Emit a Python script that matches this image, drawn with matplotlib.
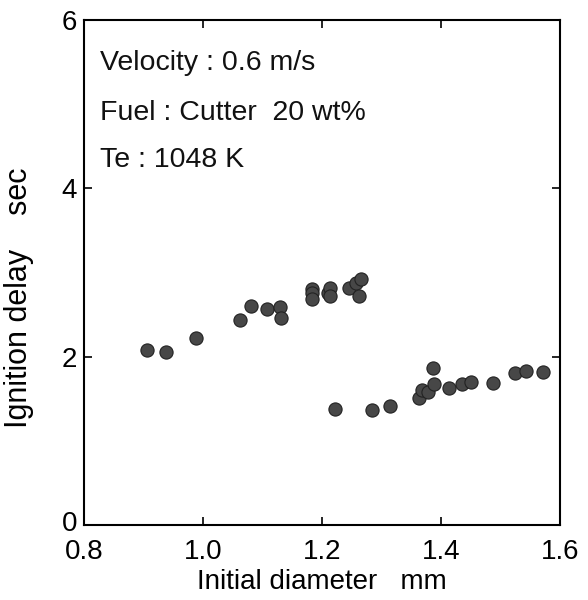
import matplotlib
matplotlib.use('Agg')
import matplotlib.pyplot as plt
import matplotlib.transforms as mtransforms

plt.rcParams['font.family'] = ['Liberation Sans', 'DejaVu Sans']

# initial diameter (mm) and ignition delay (sec)
diam_upper = [0.906, 0.937, 0.988, 1.062, 1.081, 1.107, 1.129, 1.132,
              1.184, 1.184, 1.184, 1.211, 1.213, 1.213, 1.245, 1.258, 1.265, 1.262]
delay_upper = [2.08, 2.06, 2.22, 2.44, 2.60, 2.57, 2.59, 2.46,
               2.80, 2.75, 2.69, 2.75, 2.82, 2.72, 2.82, 2.87, 2.92, 2.72]

diam_lower = [1.222, 1.285, 1.314, 1.364, 1.369, 1.379, 1.386, 1.389,
              1.413, 1.436, 1.450, 1.487, 1.525, 1.543, 1.572]
delay_lower = [1.38, 1.36, 1.41, 1.51, 1.60, 1.58, 1.87, 1.67,
               1.63, 1.67, 1.70, 1.69, 1.81, 1.83, 1.82]

x_ticks = [0.8, 1.0, 1.2, 1.4, 1.6]
y_ticks = [0, 2, 4, 6]
notes = ['Velocity : 0.6 m/s', 'Fuel : Cutter  20 wt%', 'Te : 1048 K']

fig = plt.figure(figsize=(5.88, 6.0), dpi=100)
ax = fig.add_axes([0.143, 0.125, 0.809, 0.842])

ax.scatter(diam_upper + diam_lower, delay_upper + delay_lower, s=90,
           color='#474747', edgecolors='#222222', linewidths=0.8, zorder=3)

ax.set_xlim(0.8, 1.6)
ax.set_ylim(0, 6)
ax.set_xticks(x_ticks)
ax.set_xticklabels(['%.1f' % v for v in x_ticks])
ax.set_yticks(y_ticks)
ax.tick_params(direction='in', length=6, width=1.2, labelsize=20,
               top=True, right=True)
ax.tick_params(axis='x', pad=10)
ax.tick_params(axis='y', pad=5)
for s in ax.spines.values():
    s.set_linewidth(1.5)

# lift the "0" a little so it clears the "0.8" below it
lab0 = ax.get_yticklabels()[0]
lab0.set_transform(lab0.get_transform() +
                   mtransforms.ScaledTranslation(0, 4 / 100, fig.dpi_scale_trans))

ax.set_xlabel('Initial diameter   mm', fontsize=20, labelpad=3)
ax.set_ylabel('Ignition delay    sec', fontsize=22)
ax.yaxis.set_label_coords(-0.105, 0.45)

# condition notes in the upper left corner
for yy, t in zip([0.915, 0.816, 0.723], notes):
    ax.text(0.034, yy, t, transform=ax.transAxes, fontsize=20.5,
            va='center', ha='left', color='#111111')

fig.savefig('out.png', dpi=100)
